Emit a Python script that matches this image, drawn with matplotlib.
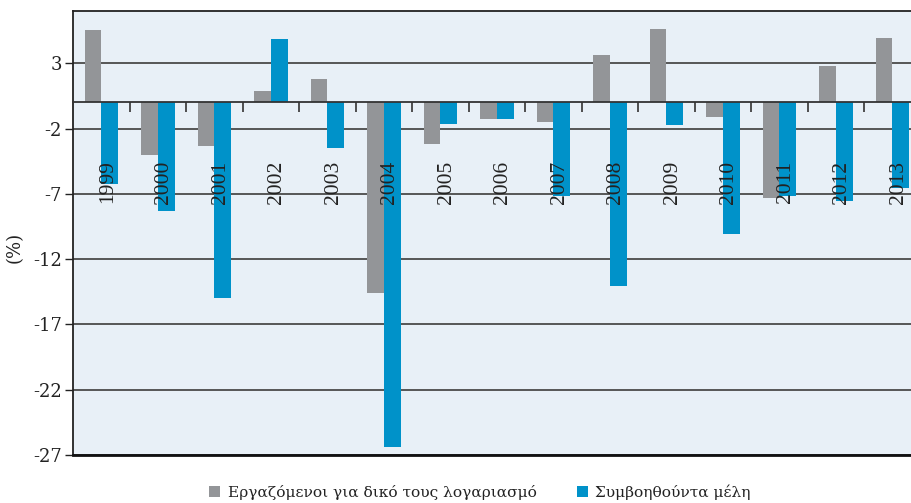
import matplotlib
matplotlib.use("Agg")
import matplotlib.pyplot as plt
import numpy as np

years = ["1999", "2000", "2001", "2002", "2003", "2004", "2005", "2006",
         "2007", "2008", "2009", "2010", "2011", "2012", "2013"]
self_employed = [5.55, -4.03, -3.32, 0.90, 1.79, -14.59, -3.19, -1.25,
                 -1.50, 3.63, 5.63, -1.12, -7.31, 2.79, 4.94]
family_workers = [-6.23, -8.33, -14.98, 4.86, -3.47, -26.35, -1.63, -1.25,
                  -7.18, -14.05, -1.73, -10.09, -7.18, -7.56, -6.54]
series_names = ["Εργαζόμενοι για δικό τους λογαριασμό", "Συμβοηθούντα μέλη"]
yticks = [3, -2, -7, -12, -17, -22, -27]

GRAY = "#939598"
BLUE = "#0092C9"
BG = "#E8F0F7"

fig = plt.figure(figsize=(9.11, 5.03), dpi=100)
ax = fig.add_axes([0.0801, 0.0954, 0.9199, 0.8826])
ax.set_facecolor(BG)

x = np.arange(len(years))
w = 0.295
ax.bar(x - w / 2, self_employed, width=w, color=GRAY, zorder=3, label=series_names[0])
ax.bar(x + w / 2, family_workers, width=w, color=BLUE, zorder=3, label=series_names[1])

ax.set_ylim(-27, 7)
ax.set_xlim(-0.505, 14.33)
ax.set_yticks(yticks)
ax.set_yticklabels([str(v) for v in yticks], fontfamily="DejaVu Serif", fontsize=13, color="#222222")
ax.yaxis.grid(True, color="#4a4a4a", linewidth=1.3, zorder=1)
ax.set_axisbelow(True)
ax.tick_params(axis="y", direction="out", length=6, width=1, color="#222222", pad=2)

# zero line acts as category axis with ticks at category boundaries
ax.spines["bottom"].set_position(("data", 0))
ax.spines["bottom"].set_color("#333333")
ax.spines["bottom"].set_linewidth(1.3)
ax.spines["bottom"].set_zorder(4)
ax.set_xticks(x[:-1] + 0.5)
ax.set_xticklabels([])
ax.tick_params(axis="x", direction="out", length=7, width=1.2, color="#333333")
ax.spines["left"].set_color("#222222")
ax.spines["left"].set_linewidth(1.3)
ax.spines["top"].set_color("#222222")
ax.spines["top"].set_linewidth(1.3)
ax.spines["right"].set_visible(False)
ax.axhline(ax.get_ylim()[0], color="#111111", linewidth=2, zorder=5, clip_on=False)

for xi, yr in zip(x, years):
    ax.text(xi + 0.105, -4.45, yr, rotation=90, ha="center", va="top",
            fontfamily="Liberation Serif", fontsize=15.5, color="#222222", zorder=6)

fig.text(0.0165, 0.509, "(%)", rotation=90, ha="center", va="center",
         fontfamily="DejaVu Serif", fontsize=13, color="#222222")

leg = fig.legend(loc="center", bbox_to_anchor=(0.527, 0.022), ncol=2, frameon=False,
                 prop={"family": "DejaVu Serif", "size": 11.1},
                 handlelength=0.7, handleheight=0.7, handletextpad=0.5, columnspacing=2.6)
for t in leg.get_texts():
    t.set_color("#222222")

fig.savefig("out.png", dpi=100)
